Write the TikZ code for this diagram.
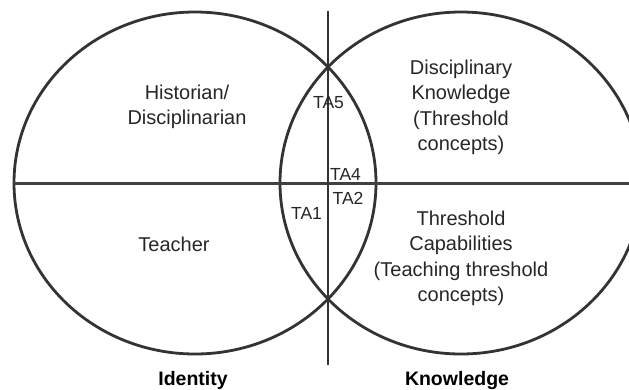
\documentclass[tikz,border=0pt]{standalone}
\usepackage{fontspec}
\setmainfont{Liberation Sans}
\usetikzlibrary{positioning}

\begin{document}
\begin{tikzpicture}[x=1pt,y=-1pt,
    ring/.style={draw=black!80, line width=2.8pt},
    axis/.style={draw=black!75, line width=3.2pt},
    region/.style={align=center, text=black!85, inner sep=0pt,
        font=\fontsize{20}{25.5}\selectfont},
    talabel/.style={text=black!85, inner sep=0pt,
        font=\fontsize{17.5}{20}\selectfont},
    caption/.style={inner sep=0pt, font=\fontsize{19.5}{22}\selectfont\bfseries}]
    \clip (0,0) rectangle (629,389);

    % the two sets
    \coordinate (identity) at (195,183);
    \coordinate (knowledge) at (461,183);
    \draw[ring] (identity) ellipse [x radius=181, y radius=171];
    \draw[ring] (knowledge) ellipse [x radius=181, y radius=171];

    % axes
    \coordinate (west) at (14,183.5);
    \coordinate (east) at (629,183.5);
    \coordinate (north) at (328,10.5);
    \coordinate (south) at (328,365);
    \draw[axis] (west) -- (east);
    \draw[axis, line width=2.6pt, draw=black!80] (north) -- (south);

    \node[region] (historian) at (187,107) {Historian/\\Disciplinarian};
    \node[region] (teacher) at (174,244) {Teacher};
    \node[region] (discknow) at (461,107.5) {Disciplinary\\Knowledge\\(Threshold\\concepts)};
    \node[region] (threscap) at (461,258.5) {Threshold\\Capabilities\\(Teaching threshold\\concepts)};

    \node[talabel] (ta5) at (328.5,103) {TA5};
    \node[talabel] (ta4) at (345.5,174) {TA4};
    \node[talabel] (ta2) at (348,198) {TA2};
    \node[talabel] (ta1) at (306.5,213) {TA1};

    \node[caption] (idcap) at (193,380) {Identity};
    \node[caption] (kncap) at (457,380) {Knowledge};
\end{tikzpicture}
\end{document}
